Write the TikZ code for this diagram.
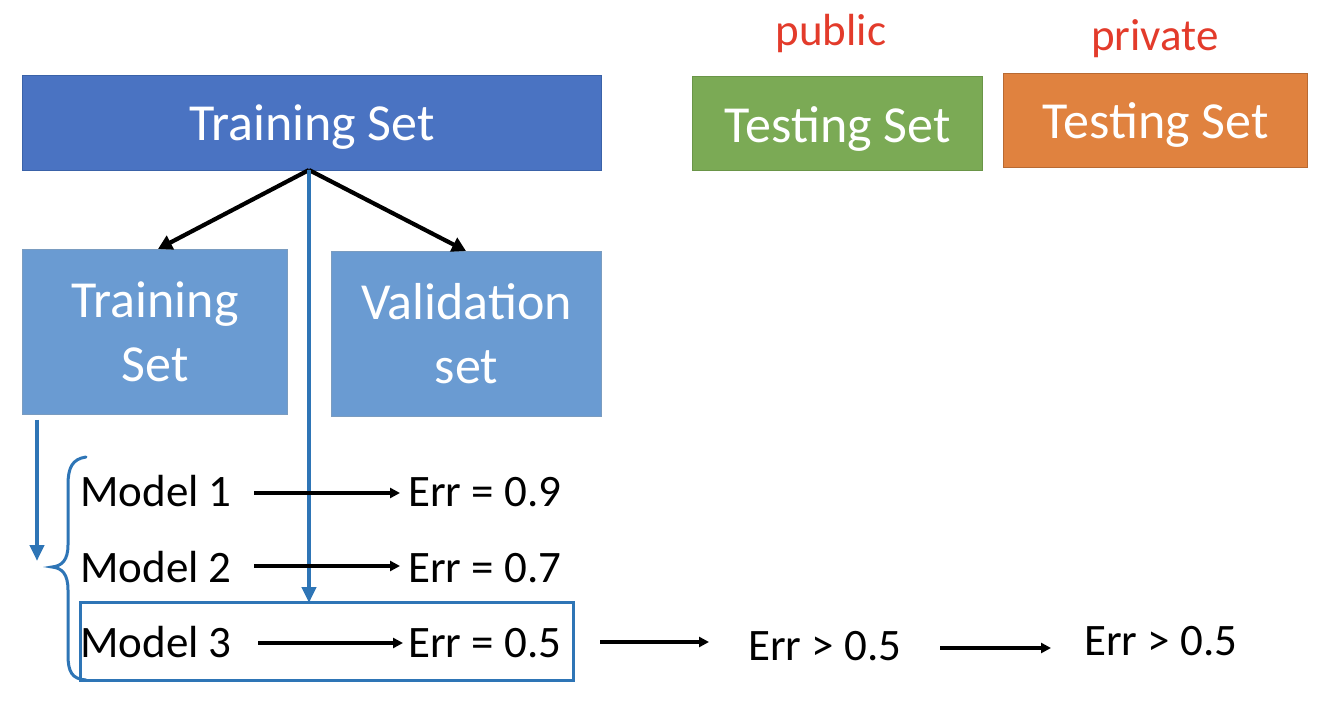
\documentclass[tikz,border=0pt]{standalone}
\usepackage{fontspec}
\setmainfont{Carlito}
\usetikzlibrary{arrows.meta}
\definecolor{darkblue}{HTML}{4A73C2}
\definecolor{darkblueedge}{HTML}{3A62A8}
\definecolor{lightblue}{HTML}{6A9BD2}
\definecolor{lightblueedge}{HTML}{7A9CC0}
\definecolor{lineblue}{HTML}{2E75B6}
\definecolor{tgreen}{HTML}{7BAA55}
\definecolor{tgreenedge}{HTML}{6A9548}
\definecolor{torange}{HTML}{E0823F}
\definecolor{torangeedge}{HTML}{B86A33}
\definecolor{tred}{HTML}{E33B2B}
\newcommand{\lowered}[2]{\raisebox{-#1}[\height][\depth]{#2}}
\tikzset{
  box/.style={draw, line width=1.2pt, inner sep=0pt, anchor=north west, text=white,
     font=\fontsize{52}{64}\selectfont, align=center},
  lbl/.style={inner sep=0pt, font=\fontsize{45}{54}\selectfont},
  blk/.style={-{Triangle[length=14pt,width=15pt]}, line width=4.2pt, black},
  sblk/.style={-{Triangle[length=10pt,width=10pt]}, line width=3.2pt, black},
  blu/.style={-{Triangle[length=16pt,width=14pt]}, line width=4pt, lineblue},
}
\begin{document}
\begin{tikzpicture}[x=1pt,y=-1pt]
\useasboundingbox[fill=white] (0,0) rectangle (1328,708);
% top boxes
\node[box, fill=darkblue, draw=darkblueedge, minimum width=579pt, minimum height=95pt] (ts) at (22,75) {\lowered{4pt}{Training Set}};
\node[box, fill=tgreen, draw=tgreenedge, minimum width=290pt, minimum height=94pt] (pub) at (692,76) {\lowered{5pt}{Testing Set}};
\node[box, fill=torange, draw=torangeedge, minimum width=304pt, minimum height=94pt] (priv) at (1003,73) {\lowered{4pt}{Testing Set}};
\node[lbl, text=tred] (publbl) at (831,34) {public};
\node[lbl, text=tred] (privlbl) at (1155,39) {private};
% second row
\node[box, fill=lightblue, draw=lightblueedge, minimum width=265pt, minimum height=165pt] (tr) at (22,249) {Training\\Set};
\node[box, fill=lightblue, draw=lightblueedge, minimum width=270pt, minimum height=165pt] (val) at (331,251) {Validation\\set};
\coordinate (split) at (309,170);
\draw[blk] (split) -- (158,249);
\draw[blk] (split) -- (466,251);
% blue selection box
\draw[line width=3pt, lineblue] (80,602) rectangle (573,680);
\coordinate (sel) at (309,603);
\draw[blu] (split) -- (sel);
\coordinate (ta) at (37,420);
\coordinate (tb) at (37,561);
\draw[blu] (ta) -- (tb);
% brace
\draw[line width=3pt, lineblue, line cap=round]
  (86,457) .. controls (72,459) and (68,468) .. (68,485)
  -- (68,545) .. controls (68,560) and (62,566) .. (52,567)
  .. controls (62,568) and (68,574) .. (68,590)
  -- (68,655) .. controls (68,672) and (72,679) .. (86,680);
% models
\node[lbl, anchor=base west] (m1) at (80,506) {Model 1};
\node[lbl, anchor=base west] (m2) at (80,582) {Model 2};
\node[lbl, anchor=base west] (m3) at (80,657) {Model 3};
\node[lbl, anchor=base west] (e1) at (408,506) {Err = 0.9};
\node[lbl, anchor=base west] (e2) at (408,582) {Err = 0.7};
\node[lbl, anchor=base west] (e3) at (408,657) {Err = 0.5};
\node[lbl, anchor=base west] (e4) at (748,660) {Err > 0.5};
\node[lbl, anchor=base west] (e5) at (1084,655) {Err > 0.5};
\draw[sblk] (254,493) -- (400,493);
\draw[sblk] (254,566) -- (400,566);
\draw[sblk] (258,643) -- (403,643);
\draw[sblk] (600,642) -- (709,642);
\draw[sblk] (940,648) -- (1051,648);
\end{tikzpicture}
\end{document}
